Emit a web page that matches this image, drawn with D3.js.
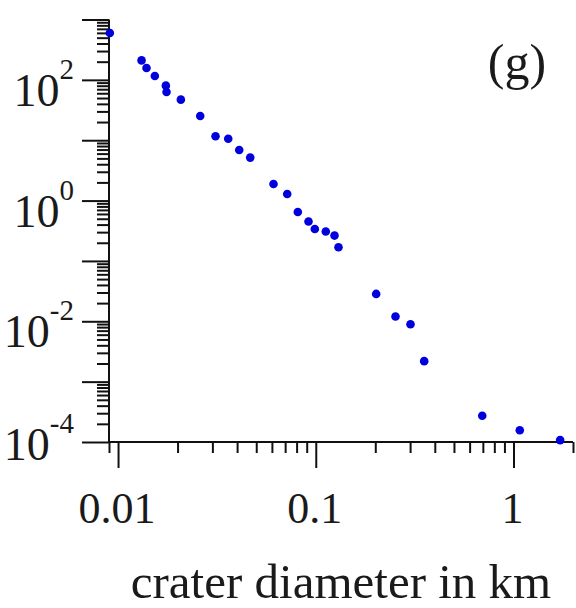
<!DOCTYPE html>
<html>
<head>
<meta charset="utf-8">
<script src="https://cdn.jsdelivr.net/npm/d3@7"></script>
<style>
  html, body { margin: 0; padding: 0; background: #fff; }
  svg { display: block; }
  text { font-family: "Liberation Serif", "Times New Roman", serif; fill: #1a1a1a; }
</style>
</head>
<body>
<svg id="chart" width="576" height="608"></svg>
<script>
// ---- data ----
const diameters = [0.00909, 0.01315, 0.01393, 0.01535, 0.01745, 0.01759, 0.02078, 0.02604,
  0.03112, 0.03608, 0.04101, 0.04662, 0.06113, 0.07171, 0.08114, 0.0919, 0.0989, 0.1124,
  0.1244, 0.1303, 0.2021, 0.2531, 0.3014, 0.3535, 0.695, 1.076, 1.722];
const densities = [596, 210, 157, 116, 80.2, 62.8, 47.0, 25.2,
  11.6, 10.6, 6.88, 5.15, 1.88, 1.286, 0.648, 0.449, 0.339, 0.307,
  0.263, 0.1685, 0.0284, 0.0120, 0.00895, 0.002185, 0.000272, 0.000157, 0.0001075];
const xTickValues = [0.01, 0.1, 1];
const xTickLabels = ["0.01", "0.1", "1"];
const yLabelExponents = [2, 0, -2, -4];
const xTitle = "crater diameter in km";
const panelLabel = "(g)";

// ---- layout ----
const svg = d3.select("#chart");
const x = d3.scaleLog().domain([0.009, 2]).range([109, 573]);
const y = d3.scaleLog().domain([1e-4, 1e3]).range([442, 19.5]);

const decadesY = d3.range(-4, 4).map(e => Math.pow(10, e));
const minorY = [];
for (let e = -4; e < 3; e++) for (let m = 2; m <= 9; m++) minorY.push(m * Math.pow(10, e));
const minorX = [0.009];
for (let e = -2; e <= 0; e++) for (let m = 2; m <= 9; m++) {
  const v = m * Math.pow(10, e);
  if (v <= 2.0001) minorX.push(v);
}

function styleAxis(g) {
  g.selectAll("path.domain").remove();
  g.selectAll(".tick line").attr("stroke", "#111").attr("stroke-width", 2);
  g.selectAll(".tick text").remove();
}

// y axis
svg.append("g").attr("transform", "translate(109,0)")
  .call(d3.axisLeft(y).tickValues(decadesY).tickSize(27).tickFormat(""))
  .call(styleAxis);
svg.append("g").attr("transform", "translate(109,0)")
  .call(d3.axisLeft(y).tickValues(minorY).tickSize(12).tickFormat(""))
  .call(styleAxis);
svg.append("line").attr("x1", 109).attr("x2", 109)
  .attr("y1", y(1e3)).attr("y2", y(1e-4)).attr("stroke", "#111").attr("stroke-width", 2);

// x axis
svg.append("g").attr("transform", "translate(0,442)")
  .call(d3.axisBottom(x).tickValues(xTickValues).tickSize(26).tickFormat(""))
  .call(styleAxis);
svg.append("g").attr("transform", "translate(0,442)")
  .call(d3.axisBottom(x).tickValues(minorX).tickSize(11).tickFormat(""))
  .call(styleAxis);
svg.append("line").attr("x1", x(0.009)).attr("x2", x(2))
  .attr("y1", 442).attr("y2", 442).attr("stroke", "#111").attr("stroke-width", 2);

// y labels (10^n)
yLabelExponents.forEach(e => {
  const ty = y(Math.pow(10, e));
  const base = Math.min(ty + 26, 460);
  const t = svg.append("text").attr("x", 74).attr("y", base)
    .attr("text-anchor", "end").style("font-size", "46px");
  t.append("tspan").text("10");
  t.append("tspan").attr("dy", -27).style("font-size", "29px").text(String(e));
});

// x labels
xTickValues.forEach((v, i) => {
  svg.append("text").attr("x", x(v) - 1).attr("y", 523)
    .attr("text-anchor", "middle").style("font-size", "44px").text(xTickLabels[i]);
});

// x title
svg.append("text").attr("x", 341).attr("y", 598)
  .attr("text-anchor", "middle").style("font-size", "49px").text(xTitle);

// panel label
svg.append("text").attr("x", 517).attr("y", 79)
  .attr("text-anchor", "middle").style("font-size", "50px").text(panelLabel);

// points
svg.append("g").selectAll("circle")
  .data(diameters.map((d, i) => [d, densities[i]]))
  .join("circle")
  .attr("cx", d => x(d[0]))
  .attr("cy", d => y(d[1]))
  .attr("r", 4.3)
  .attr("fill", "#0000dd");
</script>
</body>
</html>
